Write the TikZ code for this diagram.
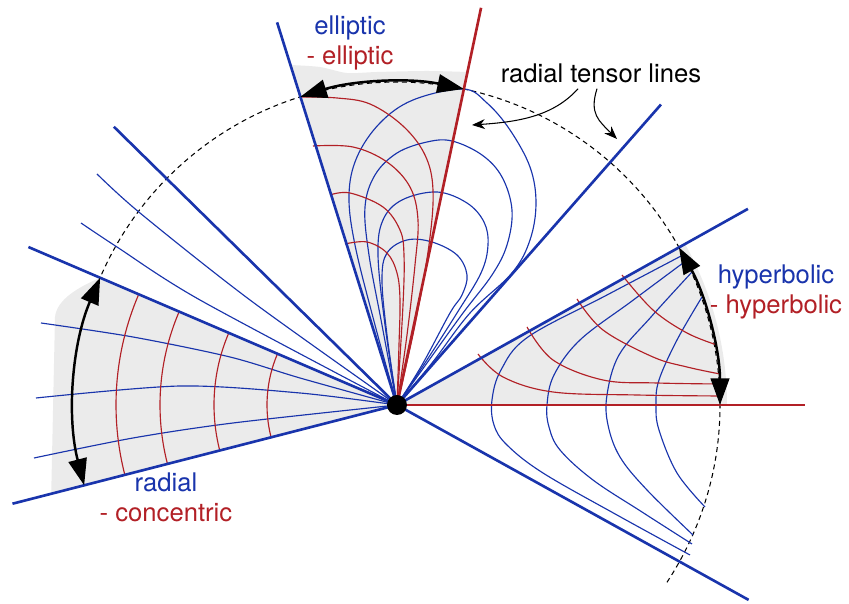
\documentclass[tikz,border=0pt]{standalone}
\usepackage{fontspec}
\setmainfont{TeX Gyre Heros}
\usetikzlibrary{arrows.meta}

\definecolor{tblue}{RGB}{25,52,172}
\definecolor{tred}{RGB}{178,32,38}

\begin{document}
\begin{tikzpicture}[x=0.02cm, y=0.02cm, >=Stealth,
    every node/.style={font=\fontsize{14.6}{17}\selectfont},
    zone/.style={fill=black!8},
    bound/.style={line width=1.5pt, tblue},
    fieldb/.style={line width=0.65pt, tblue},
    fieldr/.style={line width=0.65pt, tred},
    sweep/.style={line width=1.4pt, {Triangle[length=5.3mm, width=3.7mm]}-{Triangle[length=5.3mm, width=3.7mm]}},
    note/.style={line width=0.6pt, -{Stealth[length=2.6mm, width=2mm]}}]
    \useasboundingbox (-397,-199) rectangle (452,405);

    % Singular point
    \coordinate (O) at (0,0);

    % Shaded sectors
    \fill[zone] (O) -- plot[smooth] coordinates {(-107,340) (-77,338) (-50,332) (-20,333) (30,334) (70,333)} -- cycle;
    \fill[zone] (O) -- (29.2:330) arc[start angle=29.2, end angle=0, radius=330] -- cycle;
    \fill[zone] (O) -- (156.8:323) .. controls (-318,118) and (-340,106) .. (-342,88) -- (194.4:357) -- cycle;

    % Dashed circle
    \draw[line width=0.6pt, dash pattern=on 2.8pt off 2.2pt] (-33.3:323) arc[start angle=-33.3, end angle=157, radius=323];

    % Elliptic sector: blue loops
    \draw[fieldb] plot[smooth, tension=0.6] coordinates {(0,0) (-10,70) (-15,125) (-10,152) (10,165) (35,163) (60,150) (70,130) (65,110) (53,92) (25,40) (0,0)};
    \draw[fieldb] plot[smooth, tension=0.6] coordinates {(0,0) (-12,80) (-19,150) (-14,185) (5,205) (40,213) (70,202) (87,183) (91,160) (84,132) (60,92) (28,42) (0,0)};
    \draw[fieldb] plot[smooth, tension=0.6] coordinates {(0,0) (-15,80) (-28,150) (-32,198) (-22,230) (0,252) (30,263) (55,264) (85,250) (105,228) (115,195) (110,160) (95,130) (66,92) (30,42) (0,0)};
    \draw[fieldb] plot[smooth, tension=0.6] coordinates {(0,0) (-22,80) (-42,160) (-48,210) (-40,248) (-17,282) (16,305) (66,316) (90,302) (113,275) (133,238) (139,202) (133,165) (115,132) (73,92) (35,42) (0,0)};

    % Elliptic sector: red arcs
    \draw[fieldr] plot[smooth, tension=0.6] coordinates {(-97,308) (-60,307) (-27,301) (6,279) (28,250) (36,215) (32,160) (18,80) (0,0)};
    \draw[fieldr] plot[smooth, tension=0.6] coordinates {(-84,259) (-44,258) (-10,243) (13,218) (21,185) (18,140) (10,70) (0,0)};
    \draw[fieldr] plot[smooth, tension=0.6] coordinates {(-67,210) (-47,212) (-14,198) (3,175) (7,150) (6,100) (0,0)};
    \draw[fieldr] plot[smooth, tension=0.6] coordinates {(-52,161) (-30,163) (-10,152) (0,132) (3,105) (2,60) (0,0)};

    % Radial tensor lines between the sectors
    \draw[fieldb] plot[smooth] coordinates {(-300,231) (-257,192) (-147,105) (0,0)};
    \draw[fieldb] plot[smooth] coordinates {(-316,182) (-280,158) (-197,105) (0,0)};

    % Radial sector
    \draw[fieldb] plot[smooth] coordinates {(-356,82) (-264,68) (-167,48) (-97,27) (0,0)};
    \draw[fieldb] plot[smooth] coordinates {(-361,7) (-217,19) (-97,12) (0,0)};
    \draw[fieldb] plot[smooth] coordinates {(-363,-53) (-264,-33) (-164,-18) (0,0)};
    \foreach \r in {130,183,237,281}
        \draw[fieldr] (157:\r) arc[start angle=157, end angle=194.5, radius=\r];

    % Hyperbolic sector: blue branches
    \draw[fieldb] plot[smooth, tension=0.6] coordinates {(286,150) (210,110) (131,68) (104,35) (95,5) (97,-20) (110,-40) (146,-68) (220,-110) (293,-150)};
    \draw[fieldb] plot[smooth, tension=0.6] coordinates {(286,142) (235,104) (183,65) (157,30) (150,0) (152,-22) (163,-45) (196,-75) (245,-107) (295,-139)};
    \draw[fieldb] plot[smooth, tension=0.6] coordinates {(295,133) (254,88) (222,50) (210,10) (211,-20) (223,-52) (250,-85) (296,-130)};
    \draw[fieldb] plot[smooth, tension=0.6] coordinates {(305,108) (280,65) (262,25) (259,0) (262,-25) (280,-68) (308,-102)};

    % Hyperbolic sector: red branches
    \draw[fieldr] plot[smooth, tension=0.6] coordinates {(81,51) (106,28) (156,13) (240,10) (323,9)};
    \draw[fieldr] plot[smooth, tension=0.6] coordinates {(130,78) (156,45) (206,25) (260,22) (323,21)};
    \draw[fieldr] plot[smooth, tension=0.6] coordinates {(180,106) (206,75) (256,48) (290,38) (323,31)};
    \draw[fieldr] plot[smooth, tension=0.6] coordinates {(225,130) (256,95) (290,72) (320,60)};

    % Separatrices
    \foreach \a/\l in {107.4/401, 48.7/400, 29.2/402, -29/402, 135.5/397, 156.8/401, 194.4/397}
        \draw[bound] (O) -- (\a:\l);
    \draw[bound, tred] (O) -- (78.05:406);
    \draw[bound, tred] (O) -- (0:408);

    % Sector opening arrows
    \draw[sweep] (107.4:323) arc[start angle=107.4, end angle=78.05, radius=323];
    \draw[sweep] (29.2:323) arc[start angle=29.2, end angle=0, radius=323];
    \draw[sweep] (156.8:323) arc[start angle=156.8, end angle=194.4, radius=323];
    \fill (O) circle[radius=10];

    % Labels
    \node[align=center] (ell) at (-47,362) {\textcolor{tblue}{elliptic}\\\textcolor{tred}{- elliptic}};
    \node[align=center] (hyp) at (379,113) {\textcolor{tblue}{hyperbolic}\\\textcolor{tred}{- hyperbolic}};
    \node[align=center] (rad) at (-231,-92) {\textcolor{tblue}{radial}\\\textcolor{tred}{- concentric}};
    \node (tl) at (204,332) {radial tensor lines};

    % Pointers to the radial tensor lines
    \coordinate (tipA) at (75,280);
    \coordinate (tipB) at (220,266);
    \draw[note] ([xshift=-0.46cm]tl.south) .. controls +(-25,-28) and +(45,3) .. (tipA);
    \draw[note] ([xshift=-0.08cm]tl.south) .. controls +(-8,-25) and +(-18,18) .. (tipB);
\end{tikzpicture}
\end{document}
